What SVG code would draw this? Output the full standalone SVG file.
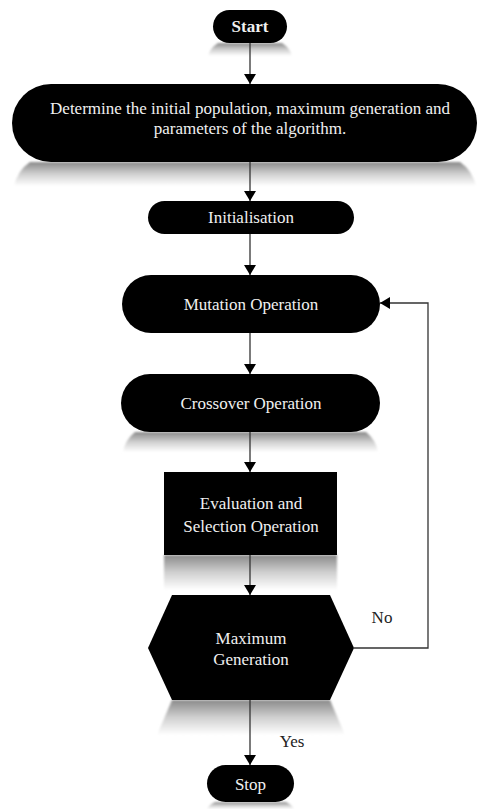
<svg xmlns="http://www.w3.org/2000/svg" width="478" height="809" viewBox="0 0 478 809">
<defs>
<linearGradient id="refl" x1="0" y1="0" x2="0" y2="1">
<stop offset="0" stop-color="#8a8a8a"/>
<stop offset="0.5" stop-color="#d0d0d0"/>
<stop offset="1" stop-color="#ffffff"/>
</linearGradient>
<marker id="ah" viewBox="0 0 10 12" refX="10" refY="6" markerWidth="10" markerHeight="12" markerUnits="userSpaceOnUse" orient="auto">
<path d="M0,0 L10,6 L0,12 Z" fill="#000"/>
</marker>
<filter id="blur" x="-10%" y="-20%" width="120%" height="140%"><feGaussianBlur stdDeviation="1.2"/></filter>
</defs>
<style>
.node{fill:#000;}
.lbl{font-family:"Liberation Serif","Times New Roman",serif;font-size:17px;fill:#f0f0f0;text-anchor:middle;}
.b{font-weight:bold;}
.edge{stroke:#333;stroke-width:1.3;fill:none;}
.elbl{font-family:"Liberation Serif","Times New Roman",serif;font-size:17px;fill:#222;text-anchor:middle;}
.refl{fill:url(#refl);filter:url(#blur);}
</style>
<rect width="478" height="809" fill="#fff"/>
<g id="reflections">
<path class="refl" d="M218,43 H282 Q290,48 292,56 H208 Q210,48 218,43 Z"/>
<path class="refl" d="M30,162 H460 Q472,170 476,186 H14 Q18,170 30,162 Z"/>
<path class="refl" d="M135,432 H366 Q376,440 378,452 H123 Q125,440 135,432 Z"/>
<path class="refl" d="M164,555 H337 V590 H164 Z"/>
<path class="refl" d="M172,700 H330 L345,735 H157 Z"/>
<path class="refl" d="M215,802 H286 Q292,805 294,809 H207 Q209,805 215,802 Z"/>
</g>
<g id="connectors">
<line class="edge" x1="250" y1="43" x2="250" y2="84" marker-end="url(#ah)"/>
<line class="edge" x1="250" y1="162" x2="250" y2="201" marker-end="url(#ah)"/>
<line class="edge" x1="250" y1="234" x2="250" y2="275" marker-end="url(#ah)"/>
<line class="edge" x1="250" y1="333" x2="250" y2="374" marker-end="url(#ah)"/>
<line class="edge" x1="250" y1="432" x2="250" y2="472" marker-end="url(#ah)"/>
<line class="edge" x1="250" y1="555" x2="250" y2="595" marker-end="url(#ah)"/>
<line class="edge" x1="250" y1="700" x2="250" y2="765" marker-end="url(#ah)"/>
<polyline class="edge" points="354,648 428,648 428,303 380,303" marker-end="url(#ah)"/>
<text class="elbl" x="382" y="623">No</text>
<text class="elbl" x="292" y="747">Yes</text>
</g>
<g id="start">
<rect class="node" x="213" y="10" width="74" height="33" rx="16.5"/>
<text class="lbl b" x="250" y="32">Start</text>
</g>
<g id="determine">
<rect class="node" x="12" y="84" width="465" height="78" rx="39"/>
<text class="lbl" x="250" y="114">Determine the initial population, maximum generation and</text>
<text class="lbl" x="250" y="134">parameters of the algorithm.</text>
</g>
<g id="initialisation">
<rect class="node" x="148" y="201" width="206" height="33" rx="16.5"/>
<text class="lbl" x="251" y="223">Initialisation</text>
</g>
<g id="mutation">
<rect class="node" x="122" y="275" width="258" height="58" rx="29"/>
<text class="lbl" x="251" y="310">Mutation Operation</text>
</g>
<g id="crossover">
<rect class="node" x="121" y="374" width="259" height="58" rx="29"/>
<text class="lbl" x="251" y="409">Crossover Operation</text>
</g>
<g id="evaluation">
<rect class="node" x="164" y="472" width="173" height="83"/>
<text class="lbl" x="251" y="509">Evaluation and</text>
<text class="lbl" x="251" y="532">Selection Operation</text>
</g>
<g id="maxgen">
<polygon class="node" points="172,595 330,595 354,648 330,700 172,700 148,648"/>
<text class="lbl" x="251" y="644">Maximum</text>
<text class="lbl" x="251" y="665">Generation</text>
</g>
<g id="stop">
<rect class="node" x="207" y="765" width="87" height="37" rx="18.5"/>
<text class="lbl" x="250.5" y="790">Stop</text>
</g>
</svg>
